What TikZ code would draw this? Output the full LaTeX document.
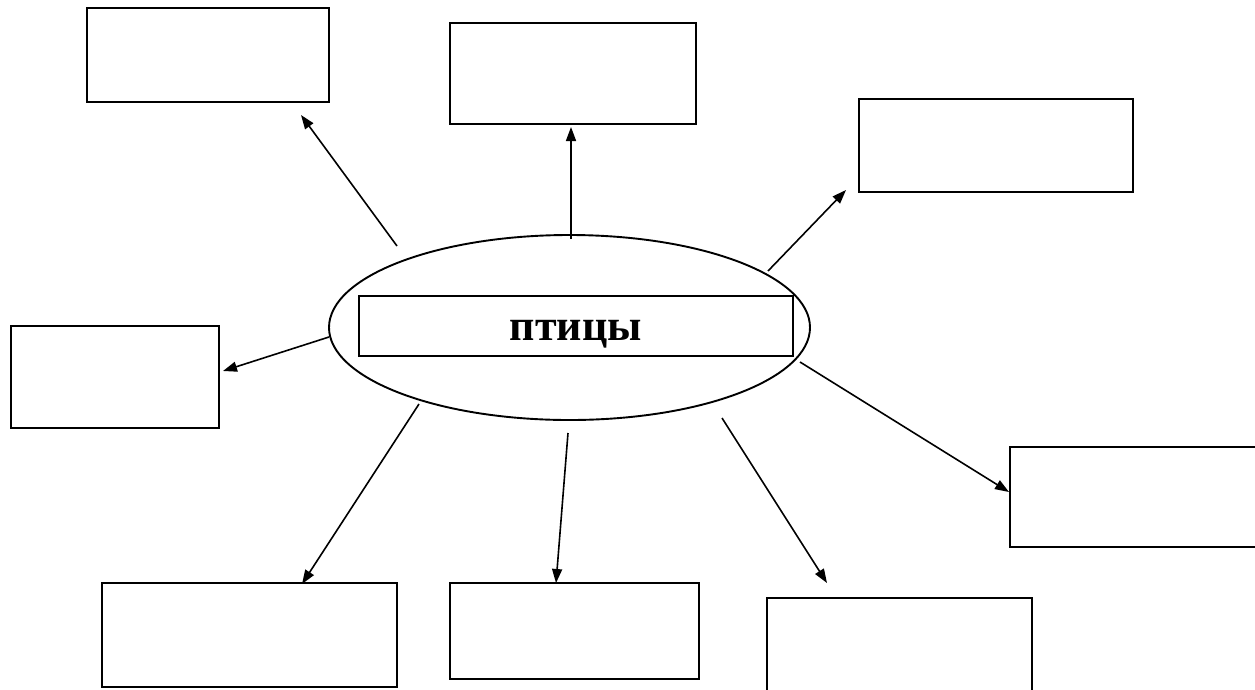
\documentclass[tikz,border=0pt]{standalone}
\usepackage{fontspec}
\setmainfont{Liberation Serif}
\usetikzlibrary{shapes.geometric, arrows.meta}

\begin{document}
\begin{tikzpicture}[
    x=1pt, y=-1pt,
    cell/.style={draw, line width=1.9pt, inner sep=0pt},
    link/.style={-{Triangle[length=14pt, width=10pt]}, line width=1.6pt}
]
    \useasboundingbox (0,0) rectangle (1255,689);
    \clip (0,0) rectangle (1255,689);

    % Centre
    \node[draw, ellipse, line width=1.9pt, inner sep=0pt, minimum width=481pt, minimum height=185pt] (birds) at (569.5,327.5) {};
    \node[cell, minimum width=434pt, minimum height=60pt] (title) at (576,326) {};
    \node[anchor=base, font=\fontsize{44}{48}\selectfont\bfseries] (label) at (576,340) {птицы};

    % Empty boxes
    \node[cell, minimum width=242pt, minimum height=94pt] (upleft) at (208,55) {};
    \node[cell, minimum width=246pt, minimum height=101pt] (up) at (573,73.5) {};
    \node[cell, minimum width=274pt, minimum height=93pt] (upright) at (996,145.5) {};
    \node[cell, minimum width=208pt, minimum height=102pt] (left) at (115,377) {};
    \node[cell, minimum width=280pt, minimum height=100pt] (right) at (1150,497) {};
    \node[cell, minimum width=295pt, minimum height=104pt] (downleft) at (249.5,635) {};
    \node[cell, minimum width=249pt, minimum height=96pt] (down) at (574.5,631) {};
    \node[cell, minimum width=265pt, minimum height=122pt] (downright) at (899.5,659) {};

    % Arrow ends
    \coordinate (s1) at (397,246);  \coordinate (t1) at (301,115);
    \coordinate (s2) at (571,239);  \coordinate (t2) at (571,127);
    \coordinate (s3) at (768,271);  \coordinate (t3) at (846,190);
    \coordinate (s4) at (329,337);  \coordinate (t4) at (223,371);
    \coordinate (s5) at (800,362);  \coordinate (t5) at (1009,492);
    \coordinate (s6) at (419,404);  \coordinate (t6) at (302,584);
    \coordinate (s7) at (568,433);  \coordinate (t7) at (556,583);
    \coordinate (s8) at (722,418);  \coordinate (t8) at (827,583);

    % Arrows
    \draw[link] (s1) -- (t1);
    \draw[link] (s2) -- (t2);
    \draw[link] (s3) -- (t3);
    \draw[link] (s4) -- (t4);
    \draw[link] (s5) -- (t5);
    \draw[link] (s6) -- (t6);
    \draw[link] (s7) -- (t7);
    \draw[link] (s8) -- (t8);
\end{tikzpicture}
\end{document}
